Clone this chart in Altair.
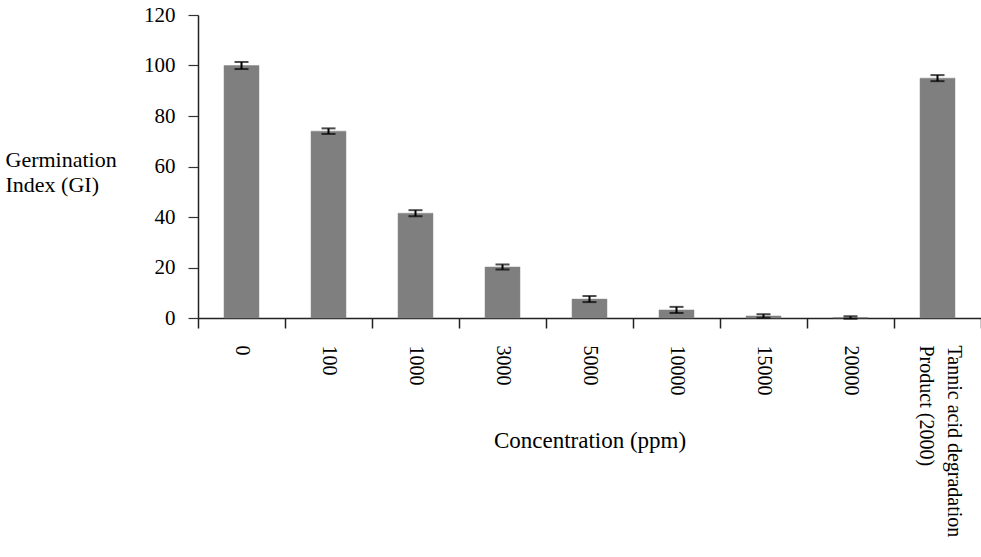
import altair as alt
import pandas as pd

categories = ["0", "100", "1000", "3000", "5000", "10000", "15000", "20000",
              "Tannic acid degradation Product (2000)"]
gi_values = [100, 74, 41.5, 20.2, 7.5, 3.2, 0.8, 0.2, 95]
gi_errors = [1.4, 1.1, 1.2, 1.0, 1.2, 1.2, 0.7, 0.5, 1.2]

df = pd.DataFrame({
    "conc": categories,
    "gi": gi_values,
    "lo": [v - e for v, e in zip(gi_values, gi_errors)],
    "hi": [v + e for v, e in zip(gi_values, gi_errors)],
})

FONT = "Liberation Serif"
TANNIC_TEST = "datum.value == 'Tannic acid degradation Product (2000)'"

x_enc = alt.X(
    "conc:N", sort=categories,
    scale=alt.Scale(paddingInner=0, paddingOuter=0),
    axis=alt.Axis(
        title="Concentration (ppm)",
        labelAngle=90,
        labelFontSize=20,
        labelFont=FONT,
        labelColor="black",
        labelPadding=17,
        labelExpr=TANNIC_TEST + " ? ['Tannic acid degradation', 'Product (2000)'] : datum.label",
        labelLineHeight=28,
        labelOffset={"condition": {"test": TANNIC_TEST, "value": 16}, "value": 0},
        tickBand="extent",
        tickSize=10,
        tickColor="#222",
        tickWidth=1.5,
        domainColor="#222",
        domainWidth=1.5,
        titleFont=FONT,
        titleFontSize=23,
        titleFontWeight="normal",
        titleColor="black",
        titleY=129,
        titleBaseline="alphabetic",
        labelLimit=400,
    ),
)

y_axis = alt.Axis(
    title=["Germination", "Index (GI)"],
    values=[0, 20, 40, 60, 80, 100, 120],
    grid=False,
    labelFontSize=21,
    labelFont=FONT,
    labelColor="black",
    labelPadding=13,
    tickSize=10,
    tickColor="#333",
    tickWidth=1.2,
    domainColor="#222",
    domainWidth=1.5,
    titleAngle=0,
    titleAlign="left",
    titleBaseline="alphabetic",
    titleX=-193,
    titleY=151,
    titleFont=FONT,
    titleFontSize=22,
    titleFontWeight="normal",
    titleColor="black",
    titleLineHeight=25,
)

y_scale = alt.Scale(domain=[0, 120], nice=False)

base = alt.Chart(df)

bars = base.mark_bar(color="#7f7f7f", stroke="#8a8a8a", strokeWidth=0.5, width=35).encode(
    x=x_enc,
    y=alt.Y("gi:Q", scale=y_scale, axis=y_axis),
)

rules = base.mark_rule(color="black", strokeWidth=2).encode(
    x=alt.X("conc:N", sort=categories),
    y=alt.Y("lo:Q"),
    y2="hi:Q",
)

caps_hi = base.mark_tick(color="black", thickness=2, size=14, orient="horizontal").encode(
    x=alt.X("conc:N", sort=categories),
    y=alt.Y("hi:Q"),
)
caps_lo = base.mark_tick(color="black", thickness=2, size=14, orient="horizontal").encode(
    x=alt.X("conc:N", sort=categories),
    y=alt.Y("lo:Q"),
)

chart = alt.layer(bars, rules, caps_hi, caps_lo).properties(
    width=783,
    height=303,
    autosize=alt.AutoSizeParams(type="none"),
    padding={"left": 198, "top": 15, "right": 0, "bottom": 239},
    background="white",
).configure_view(strokeWidth=0)

chart.save("out.html", embed_options={"renderer": "svg", "actions": False})
